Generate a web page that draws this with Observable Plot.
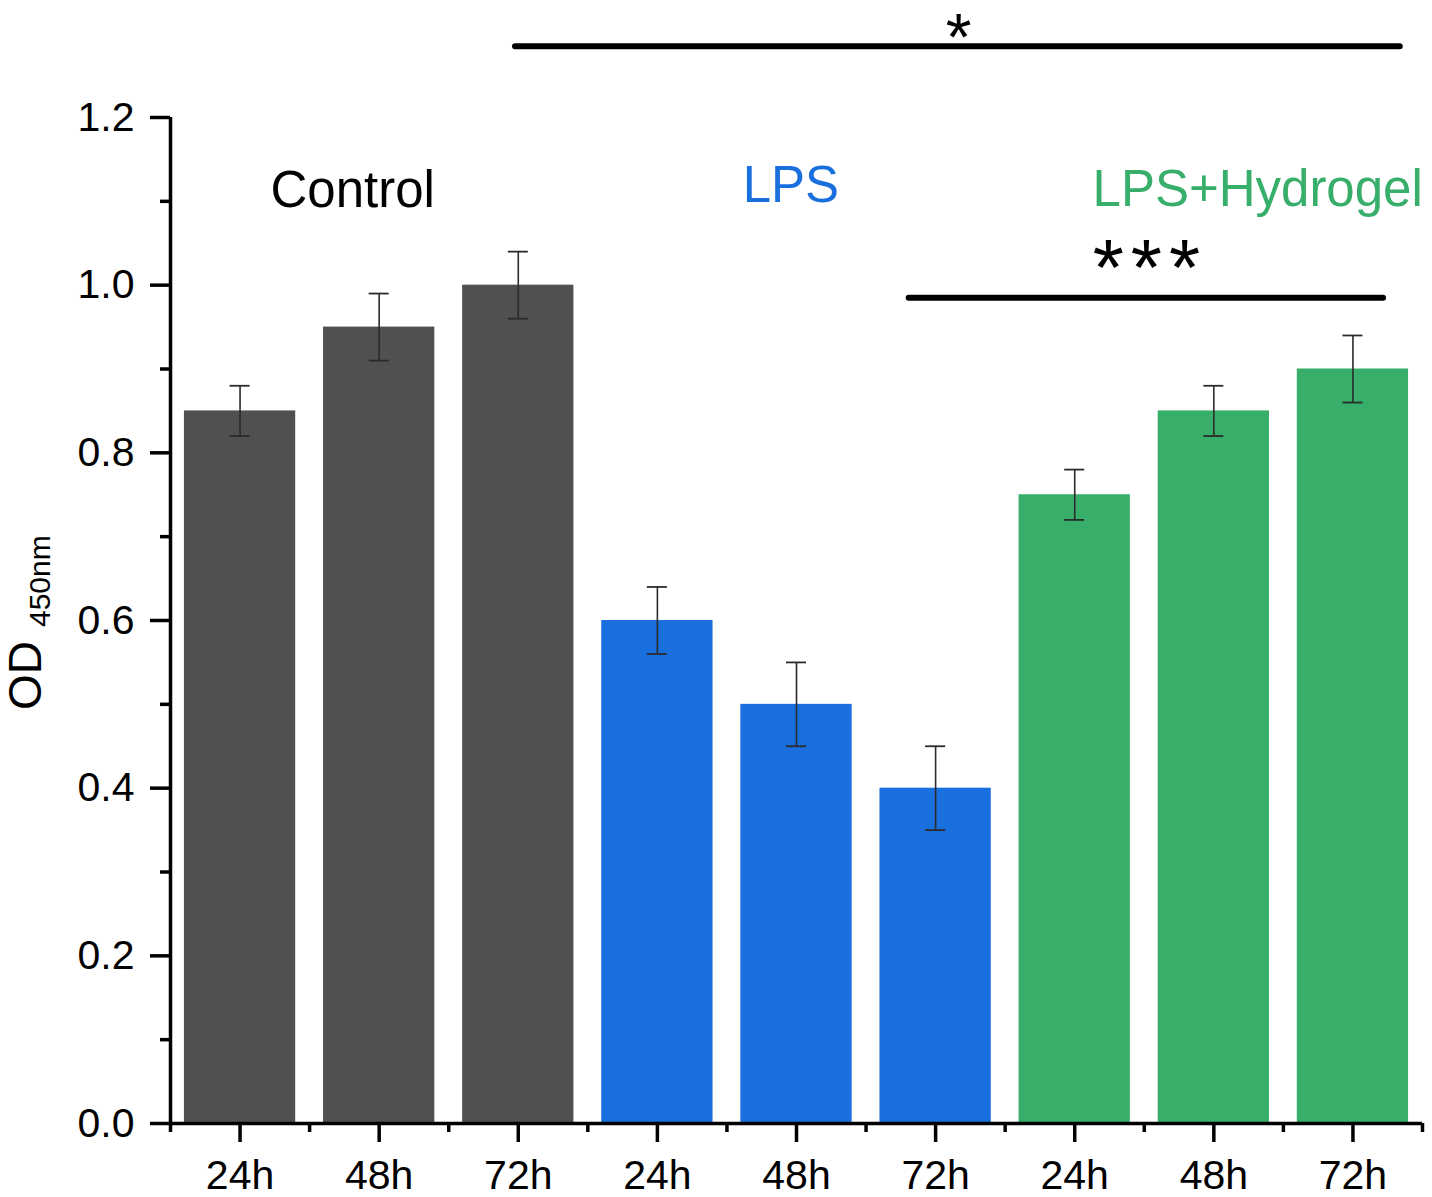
<!DOCTYPE html>
<html>
<head>
<meta charset="utf-8">
<script src="https://cdn.jsdelivr.net/npm/d3@7"></script>
<script src="https://cdn.jsdelivr.net/npm/@observablehq/plot@0.6"></script>
<style>
  html, body { margin: 0; padding: 0; background: #fff; }
  #chart svg { display: block; }
</style>
</head>
<body>
<div id="chart"></div>
<script>
// Cell viability (OD at 450 nm) per treatment group and time point
const groups = ["Control", "LPS", "LPS+Hydrogel"];
const times = ["24h", "48h", "72h"];
const controlMeans = [0.85, 0.95, 1.00];
const controlErr = [0.03, 0.04, 0.04];
const lpsMeans = [0.60, 0.50, 0.40];
const lpsErr = [0.04, 0.05, 0.05];
const hydrogelMeans = [0.75, 0.85, 0.90];
const hydrogelErr = [0.03, 0.03, 0.04];
const groupColors = ["#505050", "#1a6fdf", "#37ae6a"];
const labelColors = ["#000000", "#1a6fdf", "#37ae6a"];

// Significance brackets
const sigLines = [
  {x1: 2.98, x2: 9.34, y: 1.285},
  {x1: 5.81, x2: 9.22, y: 0.985}
];
const sigLabels = [
  {x: 6.165, y: 1.268, text: "*", size: 66},
  {x: 7.54, y: 0.988, text: "***", size: 80}
];
// Group label placement (slot position, height)
const groupLabelX = [1.81, 4.96, 8.315];
const groupLabelY = [1.093, 1.099, 1.095];

const yTicks = [0, 0.2, 0.4, 0.6, 0.8, 1.0, 1.2];
const yMinor = [0.1, 0.3, 0.5, 0.7, 0.9, 1.1];

// Build the flat table: one row per bar, slots 1..9
const means = [controlMeans, lpsMeans, hydrogelMeans];
const errs = [controlErr, lpsErr, hydrogelErr];
const rows = [];
groups.forEach((g, gi) => {
  times.forEach((t, ti) => {
    rows.push({
      group: g,
      time: t,
      pos: gi * times.length + ti + 1,
      value: means[gi][ti],
      err: errs[gi][ti],
      color: groupColors[gi]
    });
  });
});
const tickLabels = rows.map(d => d.time);
const labels = groups.map((g, i) => ({text: g, x: groupLabelX[i], y: groupLabelY[i], color: labelColors[i]}));

const font = "'Liberation Sans', Arial, Helvetica, sans-serif";
const halfBar = 0.4;
const capHalf = 0.072;

const chart = Plot.plot({
  width: 1432,
  height: 1197,
  marginLeft: 170,
  marginRight: 10,
  marginTop: 117,
  marginBottom: 74,
  style: {fontFamily: font, background: "#fff", color: "#000"},
  x: {type: "linear", domain: [0.5, 9.5]},
  y: {domain: [0, 1.2]},
  marks: [
    Plot.rectY(rows, {x1: d => d.pos - halfBar, x2: d => d.pos + halfBar, y: "value", fill: "color"}),
    // error bars
    Plot.ruleX(rows, {x: "pos", y1: d => d.value - d.err, y2: d => d.value + d.err, stroke: "#2b2b2b", strokeWidth: 1.6}),
    Plot.ruleY(rows, {y: d => d.value + d.err, x1: d => d.pos - capHalf, x2: d => d.pos + capHalf, stroke: "#2b2b2b", strokeWidth: 1.8}),
    Plot.ruleY(rows, {y: d => d.value - d.err, x1: d => d.pos - capHalf, x2: d => d.pos + capHalf, stroke: "#2b2b2b", strokeWidth: 1.8}),
    // axes
    Plot.axisY({ticks: yTicks, tickSize: 20, tickPadding: 16, tickFormat: d3.format(".1f"), fontSize: 41, strokeWidth: 3.5, label: null}),
    Plot.axisY({ticks: yMinor, tickSize: 10, tickFormat: () => "", strokeWidth: 3.5, label: null}),
    Plot.axisX({ticks: rows.map(d => d.pos), tickSize: 19, tickPadding: 17, tickFormat: (p) => tickLabels[p - 1], fontSize: 41, strokeWidth: 3.5, label: null}),
    Plot.axisX({ticks: d3.range(0.5, 10, 1), tickSize: 9, tickFormat: () => "", strokeWidth: 3.5, label: null}),
    Plot.ruleX([0.5], {y1: 0, y2: 1.2, strokeWidth: 3.5}),
    Plot.ruleY([0], {x1: 0.5, x2: 9.5, strokeWidth: 3.5}),
    // group names
    Plot.text(labels, {x: "x", y: "y", text: "text", fill: "color", fontSize: 51, lineAnchor: "bottom", textAnchor: "middle"}),
    // significance markers
    Plot.ruleY(sigLines, {x1: "x1", x2: "x2", y: "y", strokeWidth: 6, strokeLinecap: "round", stroke: "#000"}),
    Plot.text(sigLabels.slice(0, 1), {x: "x", y: "y", text: "text", fontSize: sigLabels[0].size, lineAnchor: "bottom", textAnchor: "middle", fill: "#000"}),
    Plot.text(sigLabels.slice(1), {x: "x", y: "y", text: "text", fontSize: sigLabels[1].size, lineAnchor: "bottom", textAnchor: "middle", fill: "#000"})
  ]
});

const svg = d3.select(chart);
svg.selectAll("text").filter(function () { return this.textContent === "***"; })
  .attr("letter-spacing", 7);

// Y-axis title with subscript
const title = svg.append("text")
  .attr("transform", "translate(41,710) rotate(-90)")
  .attr("text-anchor", "start")
  .attr("font-family", font)
  .attr("fill", "#000");
title.append("tspan").attr("font-size", 46).text("OD");
title.append("tspan").attr("font-size", 30).attr("dx", 14).attr("dy", 9).text("450nm");

document.getElementById("chart").appendChild(chart);
</script>
</body>
</html>
